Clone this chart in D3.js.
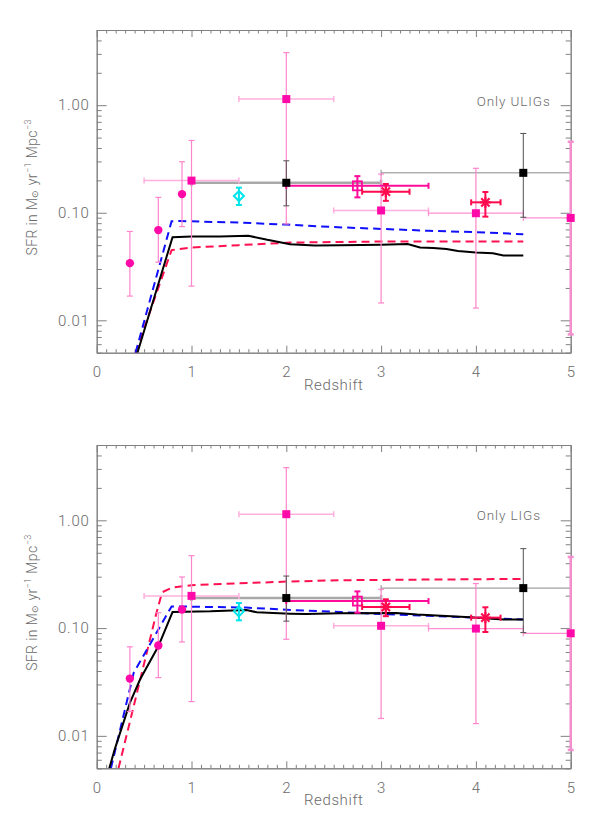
<!DOCTYPE html>
<html><head><meta charset="utf-8">
<script src="https://cdn.jsdelivr.net/npm/d3@7"></script>
<style>
body{margin:0;background:#fff}
text{font-family:Roboto,"DejaVu Sans",sans-serif;font-weight:300;fill:#6a6a6a}
</style>
</head><body>
<svg id="c" width="600" height="830"></svg>
<script>
// ---------- DATA ----------
const xTickLabels = ["0","1","2","3","4","5"];
const yTickValues = [0.01, 0.1, 1];
const yTickLabels = ["0.01","0.10","1.00"];

// magenta filled circles
const circZ  = [0.35, 0.65, 0.90];
const circV  = [0.034, 0.069, 0.149];
const circLo = [0.0168, 0.0347, 0.0743];
const circHi = [0.067, 0.139, 0.298];

// magenta filled squares
const sqZ   = [1.0, 2.0, 3.0, 4.0, 5.0];
const sqV   = [0.199, 1.14, 0.105, 0.099, 0.0895];
const sqXlo = [0.5, 1.5, 2.5, 3.5, 4.5];
const sqXhi = [1.5, 2.5, 3.5, 4.5, 5.0];
const sqLo  = [0.0208, 0.0787, 0.0145, 0.013, 0.0074];
const sqHi  = [0.47, 3.08, 0.229, 0.259, 0.457];

// black squares
const bkZ   = [2.0, 4.5];
const bkV   = [0.19, 0.235];
const bkXlo = [1.0, 3.0];
const bkXhi = [3.0, 5.0];
const bkLo  = [0.116, 0.0908];
const bkHi  = [0.304, 0.546];

// open magenta square
const osZ = [2.75], osV = [0.178], osXlo = [2.0], osXhi = [3.5], osLo = [0.139], osHi = [0.219];

// red asterisks
const asZ   = [3.05, 4.1];
const asV   = [0.157, 0.125];
const asXlo = [2.8, 3.95];
const asXhi = [3.3, 4.26];
const asLo  = [0.129, 0.092];
const asHi  = [0.185, 0.156];

// cyan diamond
const cyZ = [1.5], cyV = [0.143], cyLo = [0.118], cyHi = [0.171];

// model curves - top panel (ULIGs)
const uBlackZ = [0.43,0.80,1.0,1.3,1.6,1.8,2.04,2.3,2.57,3.0,3.28,3.41,3.55,3.69,3.81,4.0,4.18,4.29,4.5];
const uBlackV = [0.005,0.0593,0.060,0.060,0.0612,0.056,0.051,0.0497,0.050,0.0505,0.0512,0.0475,0.047,0.046,0.044,0.0426,0.042,0.040,0.040];
const uBlueZ  = [0.41,0.79,0.88,1.5,2.0,2.5,3.0,3.5,4.0,4.5];
const uBlueV  = [0.005,0.0834,0.0837,0.081,0.0776,0.0736,0.0708,0.068,0.066,0.0632];
const uRedZ   = [0.41,0.79,1.0,1.5,2.04,2.5,3.0,3.5,4.0,4.5];
const uRedV   = [0.005,0.045,0.0475,0.050,0.0528,0.0534,0.054,0.054,0.054,0.054];

// model curves - bottom panel (LIGs)
const lBlackZ = [0.133,0.19,0.35,0.457,0.65,0.80,1.2,1.58,1.69,2.04,2.21,2.57,3.16,3.38,3.94,4.29,4.5];
const lBlackV = [0.005,0.0075,0.0202,0.0333,0.0678,0.141,0.143,0.1475,0.140,0.136,0.135,0.137,0.138,0.1335,0.126,0.12,0.12];
const lBlueZ  = [0.15,0.39,0.67,0.79,1.0,1.58,2.0,2.57,3.0,3.5,4.0,4.5];
const lBlueV  = [0.005,0.0384,0.104,0.159,0.158,0.155,0.148,0.141,0.135,0.13,0.125,0.12];
const lRedZ   = [0.23,0.39,0.63,0.69,0.80,1.0,1.5,2.0,2.57,3.0,3.5,4.0,4.5];
const lRedV   = [0.005,0.0188,0.138,0.215,0.238,0.25,0.26,0.27,0.278,0.28,0.282,0.284,0.286];

const panelLabels = ["Only ULIGs", "Only LIGs"];

// ---------- DRAW ----------
const svg = d3.select("#c");
const X0 = 96.7, X1 = 570.7;
const x = d3.scaleLinear().domain([0,5]).range([X0,X1]);
const AX = "#808080";

function zip(...arrs){ return arrs[0].map((_,i)=>arrs.map(a=>a[i])); }

function drawPanel(top, bottom, models, label, labelY){
  const g = svg.append("g");
  const y = d3.scaleLog().domain([0.005,5]).range([bottom,top]);

  const xMinor = d3.range(0,5.0001,0.1).filter(v=>Math.abs(v-Math.round(v))>1e-6);
  const yMinor = [];
  [0.001,0.01,0.1,1].forEach(d=>{for(let k=2;k<=9;k++){const v=k*d; if(v>=0.005&&v<=5) yMinor.push(v);} });

  function styleAxis(sel){
    sel.selectAll("path,line").attr("stroke",AX).attr("stroke-width",1);
    sel.select(".domain").attr("stroke",AX);
    sel.selectAll("text").attr("fill","#6a6a6a").style("font-size","15px").style("letter-spacing","0.8px")
       .style("font-family",'Roboto,"DejaVu Sans",sans-serif').style("font-weight","300");
  }
  g.append("g").attr("transform",`translate(0,${bottom})`)
    .call(d3.axisBottom(x).tickValues(d3.range(0,6)).tickFormat((d,i)=>xTickLabels[i]).tickSizeInner(-7).tickSizeOuter(0).tickPadding(14))
    .call(styleAxis);
  g.append("g").attr("transform",`translate(0,${bottom})`)
    .call(d3.axisBottom(x).tickValues(xMinor).tickFormat("").tickSizeInner(-3.5).tickSizeOuter(0))
    .call(styleAxis);
  g.append("g").attr("transform",`translate(0,${top})`)
    .call(d3.axisTop(x).tickValues(d3.range(0,6)).tickFormat("").tickSizeInner(-7).tickSizeOuter(0))
    .call(styleAxis);
  g.append("g").attr("transform",`translate(0,${top})`)
    .call(d3.axisTop(x).tickValues(xMinor).tickFormat("").tickSizeInner(-3.5).tickSizeOuter(0))
    .call(styleAxis);
  g.append("g").attr("transform",`translate(${X0},0)`)
    .call(d3.axisLeft(y).tickValues(yTickValues).tickFormat((d,i)=>yTickLabels[i]).tickSizeInner(-10).tickSizeOuter(0).tickPadding(7))
    .call(styleAxis);
  g.append("g").attr("transform",`translate(${X0},0)`)
    .call(d3.axisLeft(y).tickValues(yMinor).tickFormat("").tickSizeInner(-5).tickSizeOuter(0))
    .call(styleAxis);
  g.append("g").attr("transform",`translate(${X1},0)`)
    .call(d3.axisRight(y).tickValues(yTickValues).tickFormat("").tickSizeInner(-10).tickSizeOuter(0))
    .call(styleAxis);
  g.append("g").attr("transform",`translate(${X1},0)`)
    .call(d3.axisRight(y).tickValues(yMinor).tickFormat("").tickSizeInner(-5).tickSizeOuter(0))
    .call(styleAxis);

  g.append("text").attr("x",(X0+X1)/2).attr("y",bottom+37).attr("text-anchor","middle")
    .style("font-size","15px").style("letter-spacing","0.6px").text("Redshift");
  const yl = g.append("text").attr("transform",`translate(37,${(top+bottom)/2-4}) rotate(-90)`)
    .attr("text-anchor","middle").style("font-size","14px").style("letter-spacing","0.4px");
  yl.append("tspan").text("SFR in M");
  yl.append("tspan").style("font-size","9px").attr("dy",1).text("⊙");
  yl.append("tspan").attr("dy",-1).text(" yr");
  yl.append("tspan").style("font-size","9px").attr("dy",-6).text("−1");
  yl.append("tspan").attr("dy",6).text(" Mpc");
  yl.append("tspan").style("font-size","9px").attr("dy",-6).text("−3");

  g.append("text").attr("x",476.7).attr("y",labelY).style("font-size","13.5px").style("letter-spacing","0.9px").text(label);

  const line = d3.line().x(d=>x(d[0])).y(d=>y(d[1]));
  const cid = "clip"+Math.round(top);
  svg.append("clipPath").attr("id",cid).append("rect").attr("x",X0).attr("y",top).attr("width",X1-X0).attr("height",bottom-top);
  const mg = g.append("g").attr("clip-path",`url(#${cid})`);

  function vbar(gg, xv, lo, hi, col, w, cap){
    gg.append("line").attr("x1",x(xv)).attr("x2",x(xv)).attr("y1",y(lo)).attr("y2",y(hi)).attr("stroke",col).attr("stroke-width",w);
    [lo,hi].forEach(v=>gg.append("line").attr("x1",x(xv)-cap).attr("x2",x(xv)+cap).attr("y1",y(v)).attr("y2",y(v)).attr("stroke",col).attr("stroke-width",w));
  }
  function hbar(gg, yv, lo, hi, col, w, cap){
    gg.append("line").attr("x1",x(lo)).attr("x2",x(hi)).attr("y1",y(yv)).attr("y2",y(yv)).attr("stroke",col).attr("stroke-width",w);
    [lo,hi].forEach(v=>gg.append("line").attr("x1",x(v)).attr("x2",x(v)).attr("y1",y(yv)-cap).attr("y2",y(yv)+cap).attr("stroke",col).attr("stroke-width",w));
  }

  const dg = g.append("g");
  zip(bkZ,bkV,bkXlo,bkXhi).forEach(([z,v,a,b],i)=>{
    hbar(dg, v, a, b, i===0?"#a8a8a8":"#8a8a8a", i===0?2.5:1, 3);
  });
  zip(sqZ,sqV,sqXlo,sqXhi,sqLo,sqHi).forEach(([z,v,a,b,lo,hi],i)=>{
    const hc = (i<3)?"#ffb0de":"#ff8fd2";
    hbar(dg, v, a, b, hc, i<3?1.5:1.2, 3);
    vbar(dg, z, lo, hi, i===4?"#f58fcf":"#ff85cc", i===4?2.5:1.2, 3);
  });
  zip(circZ,circLo,circHi).forEach(([z,lo,hi])=>vbar(dg,z,lo,hi,"#ff85cc",1.2,3));
  zip(bkZ,bkLo,bkHi).forEach(([z,lo,hi])=>vbar(dg,z,lo,hi,"#505050",1,3));

  models.forEach(m=>{
    mg.append("path").datum(zip(m.z,m.v)).attr("d",line).attr("fill","none")
      .attr("stroke",m.col).attr("stroke-width",2).attr("stroke-dasharray",m.dash||null);
  });

  const pg = g.append("g");
  zip(osZ,osV,osXlo,osXhi,osLo,osHi).forEach(([z,v,a,b,lo,hi])=>{
    hbar(pg, v, a, b, "#ff0a9a", 2, 3);
    vbar(pg, z, lo, hi, "#ff0a9a", 2, 3);
    pg.append("rect").attr("x",x(z)-4.5).attr("y",y(v)-4.5).attr("width",9).attr("height",9)
      .attr("fill","none").attr("stroke","#ff0a9a").attr("stroke-width",1.8);
  });
  zip(asZ,asV,asXlo,asXhi,asLo,asHi).forEach(([z,v,a,b,lo,hi])=>{
    hbar(pg, v, a, b, "#ff0a4e", 2, 3);
    vbar(pg, z, lo, hi, "#ff0a4e", 2, 3);
    const cx=x(z), cy=y(v), r=5.5;
    [[r,0],[0,r],[r*0.75,r*0.75],[r*0.75,-r*0.75]].forEach(([dx,dy])=>
      pg.append("line").attr("x1",cx-dx).attr("x2",cx+dx).attr("y1",cy-dy).attr("y2",cy+dy).attr("stroke","#ff0a4e").attr("stroke-width",2.2));
  });
  zip(cyZ,cyV,cyLo,cyHi).forEach(([z,v,lo,hi])=>{
    vbar(pg, z, lo, hi, "#00e4ec", 2, 3);
    const cx=x(z), cy=y(v), r=5;
    pg.append("path").attr("d",`M${cx},${cy-r}L${cx+r},${cy}L${cx},${cy+r}L${cx-r},${cy}Z`)
      .attr("fill","none").attr("stroke","#00e4ec").attr("stroke-width",2);
  });
  pg.selectAll("circle.c").data(zip(circZ,circV)).join("circle")
    .attr("cx",d=>x(d[0])).attr("cy",d=>y(d[1])).attr("r",4.2).attr("fill","#ff0aa8");
  pg.selectAll("rect.s").data(zip(sqZ,sqV)).join("rect")
    .attr("x",d=>x(d[0])-4).attr("y",d=>y(d[1])-4).attr("width",8).attr("height",8).attr("fill","#ff0aa8");
  pg.selectAll("rect.b").data(zip(bkZ,bkV)).join("rect")
    .attr("x",d=>x(d[0])-4).attr("y",d=>y(d[1])-4).attr("width",8).attr("height",8).attr("fill","#000");
}

drawPanel(30, 352.7, [
  {z:uRedZ, v:uRedV, col:"#ff1050", dash:"8,5"},
  {z:uBlueZ, v:uBlueV, col:"#1010ff", dash:"8,5"},
  {z:uBlackZ, v:uBlackV, col:"#000"}
], panelLabels[0], 106);

drawPanel(445, 768.3, [
  {z:lRedZ, v:lRedV, col:"#ff1050", dash:"8,5"},
  {z:lBlueZ, v:lBlueV, col:"#1010ff", dash:"8,5"},
  {z:lBlackZ, v:lBlackV, col:"#000"}
], panelLabels[1], 520);
</script>
</body></html>
